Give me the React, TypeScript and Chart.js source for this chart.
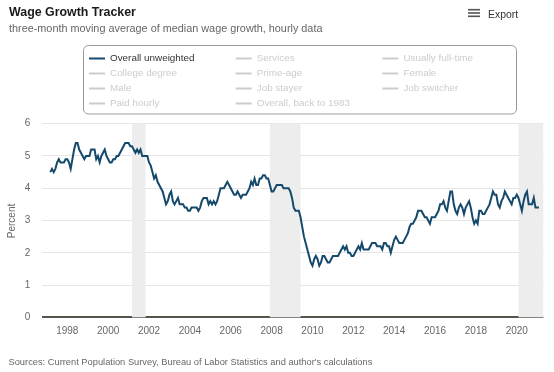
import { useEffect, useRef } from 'react';
import { Chart, registerables } from 'chart.js';

Chart.register(...registerables);

// ---- data ----
const startYear = 1997;
const startMonth = 3; // first observation: March 1997

const overallUnweighted = [
  4.5, 4.6, 4.5, 4.6, 4.8, 4.9, 4.8, 4.8, 4.8, 4.9, 4.9, 4.8,
  4.6, 4.9, 5.2, 5.4, 5.4, 5.2, 5.1, 5.0, 4.9, 5.0, 5.0, 5.0,
  5.2, 5.2, 5.2, 4.9, 5.0, 4.8, 5.0, 5.1, 5.2, 5.0, 4.9, 4.8,
  4.8, 4.9, 4.9, 5.0, 5.0, 5.1, 5.2, 5.3, 5.4, 5.4, 5.4, 5.3,
  5.3, 5.2, 5.1, 5.2, 5.1, 5.2, 5.0, 5.0, 5.0, 5.0, 4.8, 4.7,
  4.5, 4.3, 4.4, 4.2, 4.1, 4.0, 3.9, 3.7, 3.5, 3.6, 3.8, 3.9,
  3.6, 3.5, 3.6, 3.7, 3.5, 3.5, 3.5, 3.4, 3.4, 3.3, 3.3, 3.4,
  3.4, 3.4, 3.4, 3.3, 3.4, 3.6, 3.7, 3.7, 3.7, 3.5, 3.6, 3.5,
  3.6, 3.5, 3.6, 3.8, 4.0, 4.0, 4.0, 4.1, 4.2, 4.1, 4.0, 3.9,
  3.8, 3.8, 3.9, 3.8, 3.7, 3.8, 3.8, 3.8, 3.9, 4.0, 4.2, 4.1,
  4.3, 4.1, 4.1, 4.3, 4.3, 4.4, 4.4, 4.3, 4.3, 4.1, 3.9, 3.9,
  4.0, 4.1, 4.1, 4.1, 4.1, 4.0, 4.0, 4.0, 4.0, 3.9, 3.7, 3.4,
  3.3, 3.3, 3.3, 3.1, 2.8, 2.5, 2.3, 2.1, 1.9, 1.7, 1.6, 1.8,
  1.9, 1.8, 1.6, 1.7, 1.9, 1.9, 1.8, 1.7, 1.7, 1.8, 1.9, 1.9,
  1.9, 1.9, 2.0, 2.1, 2.2, 2.1, 2.2, 2.0, 2.0, 1.9, 1.9, 2.0,
  2.1, 2.2, 2.1, 2.3, 2.1, 2.1, 2.1, 2.1, 2.2, 2.3, 2.3, 2.3,
  2.2, 2.2, 2.2, 2.1, 2.3, 2.3, 2.2, 2.2, 2.0, 2.2, 2.4, 2.5,
  2.4, 2.3, 2.3, 2.3, 2.4, 2.5, 2.6, 2.8, 2.9, 2.9, 3.0, 3.1,
  3.3, 3.3, 3.3, 3.2, 3.1, 3.1, 3.0, 2.9, 3.1, 3.1, 3.1, 3.2,
  3.3, 3.5, 3.5, 3.6, 3.4, 3.3, 3.6, 3.9, 3.9, 3.5, 3.3, 3.2,
  3.4, 3.5, 3.4, 3.2, 3.4, 3.5, 3.6, 3.4, 3.1, 2.9, 3.0, 2.9,
  3.3, 3.3, 3.2, 3.2, 3.3, 3.4, 3.5, 3.7, 3.9, 3.8, 3.8, 3.5,
  3.4, 3.6, 3.7, 3.9, 3.8, 3.7, 3.6, 3.5, 3.7, 3.7, 3.8, 3.7,
  3.5, 3.3, 3.6, 3.8, 3.9, 3.5, 3.5, 3.5, 3.7, 3.4, 3.4, 3.4,
];

const seriesNames = [
  'Overall unweighted', 'Services', 'Usually full-time',
  'College degree', 'Prime-age', 'Female',
  'Male', 'Job stayer', 'Job switcher',
  'Paid hourly', 'Overall, back to 1983',
];

const xTickYears = [1998, 2000, 2002, 2004, 2006, 2008, 2010, 2012, 2014, 2016, 2018, 2020];
const yTickValues = [0, 1, 2, 3, 4, 5, 6];

// recession periods (start, end); null end = ongoing
const recessionStarts = ['2001-03', '2007-12', '2020-02'];
const recessionEnds: (string | null)[] = ['2001-11', '2009-06', null];

const titleText = 'Wage Growth Tracker';
const subtitleText = 'three-month moving average of median wage growth, hourly data';
const yAxisTitle = 'Percent';
const sourceText = "Sources: Current Population Survey, Bureau of Labor Statistics and author's calculations";
const exportText = 'Export';

// ---- helpers ----
const ym = (s: string) => {
  const [y, m] = s.split('-').map(Number);
  return y + (m - 1) / 12;
};
const points = overallUnweighted.map((v, i) => ({
  x: startYear + (startMonth - 1 + i) / 12,
  y: v,
}));

const FONT = '"Liberation Sans", Arial, Helvetica, sans-serif';
const LINE_COLOR = '#15496b';
const INACTIVE = '#cccccc';

const decorPlugin = {
  id: 'decor',
  beforeDatasetsDraw(chart: any) {
    const { ctx, chartArea, scales } = chart;
    const xs = scales.x;
    ctx.save();
    ctx.fillStyle = '#ededee';
    recessionStarts.forEach((s, i) => {
      const e = recessionEnds[i];
      const x0 = xs.getPixelForValue(ym(s));
      const x1 = e ? xs.getPixelForValue(ym(e)) : chartArea.right;
      ctx.fillRect(x0, chartArea.top, Math.min(x1, chartArea.right) - x0, chartArea.bottom - chartArea.top);
    });
    ctx.restore();
  },
  afterDraw(chart: any) {
    const { ctx } = chart;
    ctx.save();
    // title
    ctx.textBaseline = 'middle';
    ctx.textAlign = 'left';
    ctx.fillStyle = '#1a1a1a';
    ctx.font = `bold 12.4px ${FONT}`;
    ctx.fillText(titleText, 9, 12.5);
    ctx.fillStyle = '#666666';
    ctx.font = `10.85px ${FONT}`;
    ctx.fillText(subtitleText, 9, 28.5);

    // export button
    ctx.fillStyle = '#555555';
    [9.7, 13, 16.3].forEach((y) => ctx.fillRect(468, y - 0.8, 12, 1.6));
    ctx.fillStyle = '#333333';
    ctx.font = `10.4px ${FONT}`;
    ctx.fillText(exportText, 488, 15);

    // legend box
    ctx.strokeStyle = '#9a9a9a';
    ctx.lineWidth = 1;
    ctx.beginPath();
    ctx.roundRect(83.5, 45.5, 433, 68.5, 5);
    ctx.stroke();
    ctx.font = `9.9px ${FONT}`;
    chart.data.datasets.forEach((ds: any, i: number) => {
      const row = Math.floor(i / 3);
      const col = i % 3;
      const sx = 89 + col * 146.7;
      const sy = 58.5 + row * 15;
      const visible = chart.isDatasetVisible(i);
      ctx.strokeStyle = visible ? ds.borderColor : INACTIVE;
      ctx.lineWidth = 2;
      ctx.beginPath();
      ctx.moveTo(sx, sy);
      ctx.lineTo(sx + 16, sy);
      ctx.stroke();
      ctx.fillStyle = visible ? '#333333' : INACTIVE;
      ctx.fillText(ds.label, sx + 21, sy);
    });

    // y axis title
    ctx.save();
    ctx.translate(12.5, 221);
    ctx.rotate(-Math.PI / 2);
    ctx.textAlign = 'center';
    ctx.fillStyle = '#666666';
    ctx.font = `10px ${FONT}`;
    ctx.fillText(yAxisTitle, 0, 0);
    ctx.restore();

    // source
    ctx.fillStyle = '#666666';
    ctx.font = `9.3px ${FONT}`;
    ctx.fillText(sourceText, 8.5, 362);
    ctx.restore();
  },
};

export default function App() {
  const ref = useRef<HTMLCanvasElement | null>(null);

  useEffect(() => {
    if (!ref.current) return;
    const datasets: any[] = seriesNames.map((name, i) => ({
      label: name,
      data: i === 0 ? points : [],
      hidden: i !== 0,
      borderColor: LINE_COLOR,
      borderWidth: 2,
      pointRadius: 0,
      tension: 0,
      fill: false,
    }));
    const chart = new Chart(ref.current, {
      type: 'line',
      data: { datasets },
      plugins: [decorPlugin],
      options: {
        responsive: false,
        animation: false,
        layout: { padding: { left: 0, right: 10.7, top: 123.7, bottom: 34.7 } },
        plugins: {
          legend: { display: false },
          title: { display: false },
          tooltip: { enabled: false },
        },
        scales: {
          x: {
            type: 'linear',
            min: 1996.776,
            max: 2021.299,
            afterBuildTicks: (axis: any) => {
              axis.ticks = xTickYears.map((v) => ({ value: v }));
            },
            afterFit: (axis: any) => {
              axis.height = 20;
            },
            ticks: {
              color: '#666666',
              font: { family: FONT, size: 10 },
              padding: 8,
              autoSkip: false,
              maxRotation: 0,
              callback: (v: any) => String(v),
            },
            grid: { display: false, drawTicks: false },
            border: { display: false },
          },
          y: {
            min: 0,
            max: 6,
            afterBuildTicks: (axis: any) => {
              axis.ticks = yTickValues.map((v) => ({ value: v }));
            },
            afterFit: (axis: any) => {
              axis.width = 42.3;
            },
            ticks: {
              color: '#666666',
              font: { family: FONT, size: 10 },
              padding: 12,
            },
            grid: {
              drawTicks: false,
              color: (c: any) => (c.tick && c.tick.value === 0 ? '#55554c' : '#e6e6e6'),
              lineWidth: (c: any) => (c.tick && c.tick.value === 0 ? 2 : 1),
            },
            border: { display: false },
          },
        },
      },
    });
    return () => chart.destroy();
  }, []);

  return (
    <div style={{ position: 'fixed', left: 0, top: 0, width: 554, height: 372, background: '#fff' }}>
      <canvas ref={ref} width={554} height={372} style={{ display: 'block' }} />
    </div>
  );
}
